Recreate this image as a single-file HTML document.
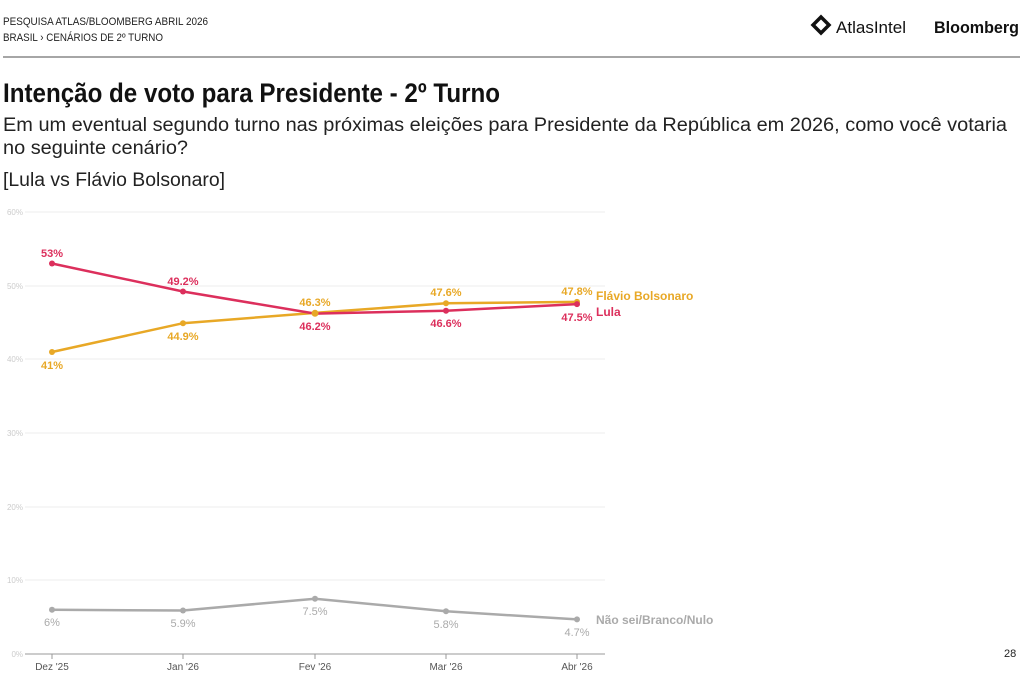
<!DOCTYPE html>
<html><head><meta charset="utf-8"><style>
body{margin:0;background:#fff;width:1024px;height:683px;overflow:hidden}
svg{display:block;font-family:"Liberation Sans",sans-serif}
</style></head><body>
<svg width="1024" height="683" viewBox="0 0 1024 683">
<text x="3" y="25" font-size="11" textLength="205" lengthAdjust="spacingAndGlyphs" fill="#222">PESQUISA ATLAS/BLOOMBERG ABRIL 2026</text>
<text x="3" y="41" font-size="11" textLength="160" lengthAdjust="spacingAndGlyphs" fill="#222">BRASIL › CENÁRIOS DE 2º TURNO</text>
<path d="M821 17 L829 25 L821 33 L813 25 Z" fill="none" stroke="#111" stroke-width="3.5"/>
<text x="836" y="33" font-size="17" textLength="70" lengthAdjust="spacingAndGlyphs" fill="#111">AtlasIntel</text>
<text x="934" y="33" font-size="17" font-weight="bold" textLength="85" lengthAdjust="spacingAndGlyphs" fill="#111">Bloomberg</text>
<line x1="3" y1="57" x2="1020" y2="57" stroke="#888" stroke-width="1.5"/>
<text x="3" y="102" font-size="27" font-weight="bold" textLength="497" lengthAdjust="spacingAndGlyphs" fill="#111">Intenção de voto para Presidente - 2º Turno</text>
<text x="3" y="131" font-size="19" textLength="1004" lengthAdjust="spacingAndGlyphs" fill="#222">Em um eventual segundo turno nas próximas eleições para Presidente da República em 2026, como você votaria</text>
<text x="3" y="154" font-size="19" textLength="185" lengthAdjust="spacingAndGlyphs" fill="#222">no seguinte cenário?</text>
<text x="3" y="186" font-size="19" textLength="222" lengthAdjust="spacingAndGlyphs" fill="#222">[Lula vs Flávio Bolsonaro]</text>
<g stroke="#eee" stroke-width="1">
<line x1="25" y1="212" x2="605" y2="212"/><line x1="25" y1="286" x2="605" y2="286"/><line x1="25" y1="359" x2="605" y2="359"/><line x1="25" y1="433" x2="605" y2="433"/><line x1="25" y1="507" x2="605" y2="507"/><line x1="25" y1="580" x2="605" y2="580"/></g>
<line x1="25" y1="654" x2="605" y2="654" stroke="#999"/>
<g font-size="8" fill="#ccc" text-anchor="end"><text x="23" y="215">60%</text><text x="23" y="289">50%</text><text x="23" y="362">40%</text><text x="23" y="436">30%</text><text x="23" y="510">20%</text><text x="23" y="583">10%</text><text x="23" y="657">0%</text></g>
<g stroke="#999"><line x1="52" y1="654" x2="52" y2="659"/><line x1="183" y1="654" x2="183" y2="659"/><line x1="315" y1="654" x2="315" y2="659"/><line x1="446" y1="654" x2="446" y2="659"/><line x1="577" y1="654" x2="577" y2="659"/></g>
<g font-size="10" fill="#555" text-anchor="middle"><text x="52" y="670">Dez '25</text><text x="183" y="670">Jan '26</text><text x="315" y="670">Fev '26</text><text x="446" y="670">Mar '26</text><text x="577" y="670">Abr '26</text></g>
<polyline points="52,609.8 183,610.5 315,598.7 446,611.3 577,619.4" fill="none" stroke="#aaa" stroke-width="2.5"/>
<g fill="#aaa"><circle cx="52" cy="609.8" r="3"/><circle cx="183" cy="610.5" r="3"/><circle cx="315" cy="598.7" r="3"/><circle cx="446" cy="611.3" r="3"/><circle cx="577" cy="619.4" r="3"/></g>
<g font-size="11" fill="#aaa" text-anchor="middle"><text x="52" y="626">6%</text><text x="183" y="627">5.9%</text><text x="315" y="615">7.5%</text><text x="446" y="628">5.8%</text><text x="577" y="636">4.7%</text></g>
<text x="596" y="624" font-size="12" font-weight="bold" fill="#aaa">Não sei/Branco/Nulo</text>
<polyline points="52,352 183,323.2 315,312.9 446,303.3 577,301.9" fill="none" stroke="#e8a826" stroke-width="2.5"/>
<polyline points="52,263.5 183,291.5 315,313.6 446,310.7 577,304.1" fill="none" stroke="#dc2f5c" stroke-width="2.5"/>
<g fill="#e8a826"><circle cx="52" cy="352" r="3"/><circle cx="183" cy="323.2" r="3"/><circle cx="446" cy="303.3" r="3"/><circle cx="577" cy="301.9" r="3"/></g>
<g fill="#dc2f5c"><circle cx="52" cy="263.5" r="3"/><circle cx="183" cy="291.5" r="3"/><circle cx="446" cy="310.7" r="3"/><circle cx="577" cy="304.1" r="3"/></g>
<circle cx="315" cy="313.3" r="3.5" fill="#e8a826"/>
<g font-size="11" font-weight="bold" fill="#dc2f5c" text-anchor="middle"><text x="52" y="257">53%</text><text x="183" y="285">49.2%</text><text x="315" y="330">46.2%</text><text x="446" y="327">46.6%</text><text x="577" y="321">47.5%</text></g>
<g font-size="11" font-weight="bold" fill="#e8a826" text-anchor="middle"><text x="52" y="369">41%</text><text x="183" y="340">44.9%</text><text x="315" y="306">46.3%</text><text x="446" y="296">47.6%</text><text x="577" y="295">47.8%</text></g>
<text x="596" y="300" font-size="12" font-weight="bold" fill="#e8a826">Flávio Bolsonaro</text>
<text x="596" y="316" font-size="12" font-weight="bold" fill="#dc2f5c">Lula</text>
<text x="1004" y="657" font-size="11" fill="#222">28</text>
</svg>
</body></html>
